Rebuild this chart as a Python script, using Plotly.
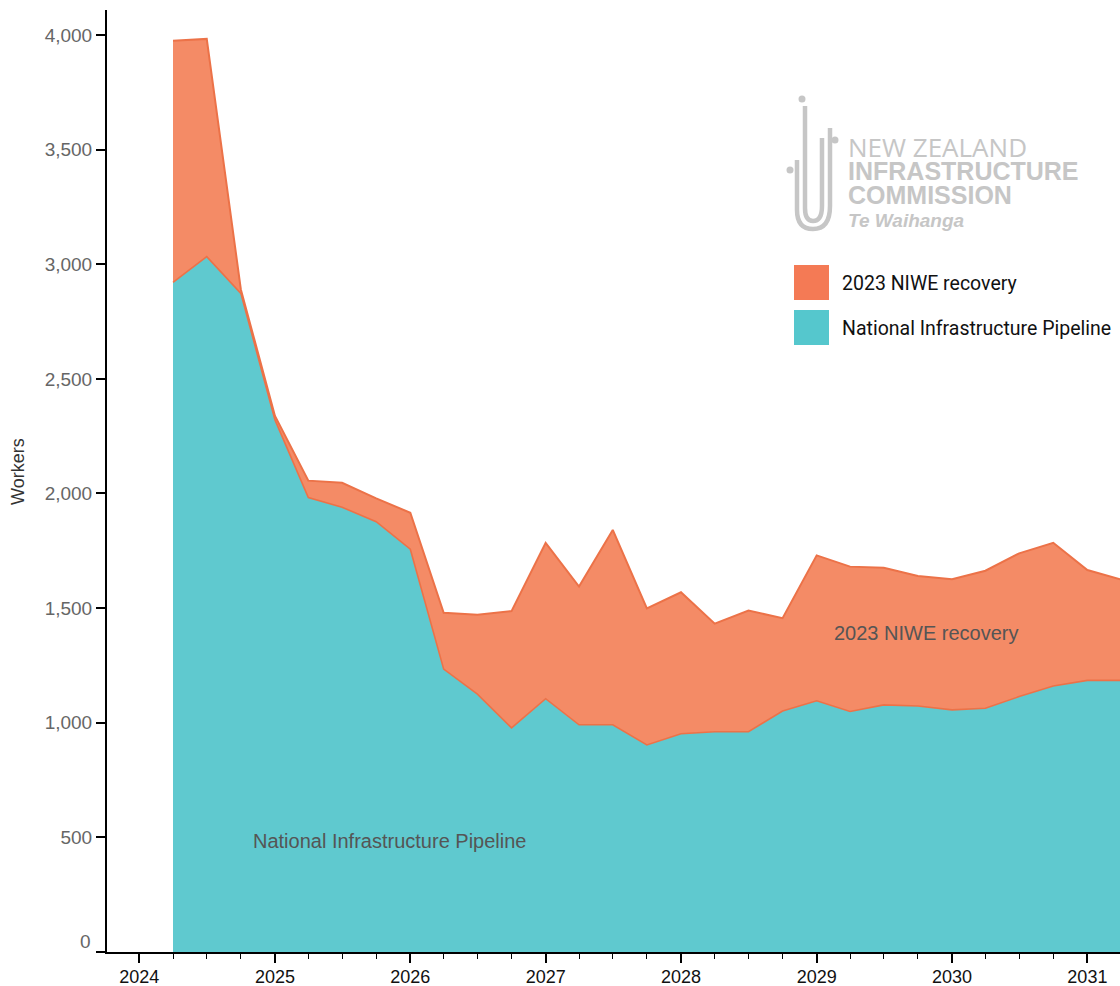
import plotly.graph_objects as go

quarters = ["2024-04-01", "2024-07-01", "2024-10-01",
            "2025-01-01", "2025-04-01", "2025-07-01", "2025-10-01",
            "2026-01-01", "2026-04-01", "2026-07-01", "2026-10-01",
            "2027-01-01", "2027-04-01", "2027-07-01", "2027-10-01",
            "2028-01-01", "2028-04-01", "2028-07-01", "2028-10-01",
            "2029-01-01", "2029-04-01", "2029-07-01", "2029-10-01",
            "2030-01-01", "2030-04-01", "2030-07-01", "2030-10-01",
            "2031-01-01", "2031-04-01"]

pipeline = [2921, 3033, 2873,
            2321, 1982, 1940, 1877,
            1757, 1234, 1125, 978,
            1105, 991, 991, 903,
            952, 961, 961, 1051,
            1096, 1049, 1078, 1073,
            1056, 1063, 1114, 1160,
            1185, 1185]

niwe = [1054, 950, 17,
        17, 74, 107, 102,
        159, 246, 346, 509,
        680, 603, 850, 596,
        617, 471, 528, 405,
        634, 632, 598, 567,
        570, 600, 625, 625,
        481, 440]

y_ticks = [0, 500, 1000, 1500, 2000, 2500, 3000, 3500, 4000]
y_tick_text = ["", "500", "1,000", "1,500", "2,000", "2,500", "3,000", "3,500", "4,000"]

series_names = ["National Infrastructure Pipeline", "2023 NIWE recovery"]

TEAL_FILL = "rgba(95,201,207,1)"
ORANGE_FILL = "rgba(244,139,102,1)"
ORANGE_LINE = "rgb(236,114,72)"
TEAL_KEY = "#55c7cd"
ORANGE_KEY = "#f47a55"

# plot area in pixels
L, R, T, B = 107, 1120, 10, 952
W, H = R - L, B - T


def px(x):
    return (x - L) / W


def py(y):
    return (B - y) / H


fig = go.Figure()
fig.add_trace(go.Scatter(
    x=quarters, y=pipeline, name=series_names[0], stackgroup="one",
    mode="lines", line=dict(color=ORANGE_LINE, width=1.6),
    fillcolor=TEAL_FILL, hoverinfo="x+y"))
fig.add_trace(go.Scatter(
    x=quarters, y=niwe, name=series_names[1], stackgroup="one",
    mode="lines", line=dict(color=ORANGE_LINE, width=2),
    fillcolor=ORANGE_FILL, hoverinfo="x+y"))

shapes = []
annotations = []

# legend keys
for (y0, col, name) in [(265, ORANGE_KEY, series_names[1]), (310, TEAL_KEY, series_names[0])]:
    shapes.append(dict(type="rect", xref="paper", yref="paper",
                       x0=px(794), x1=px(829), y0=py(y0 + 35), y1=py(y0),
                       fillcolor=col, line=dict(width=0)))
    annotations.append(dict(xref="paper", yref="paper", x=px(840), y=py(y0 + 18),
                            text=name, showarrow=False, xanchor="left", yanchor="middle",
                            font=dict(family="Roboto", size=19.5, color="#111")))

# in-chart labels
annotations.append(dict(xref="paper", yref="paper", x=px(251), y=py(841),
                        text=series_names[0], showarrow=False, xanchor="left", yanchor="middle",
                        font=dict(family="Liberation Sans, Arial", size=20, color="#555")))
annotations.append(dict(xref="paper", yref="paper", x=px(832), y=py(633),
                        text=series_names[1], showarrow=False, xanchor="left", yanchor="middle",
                        font=dict(family="Liberation Sans, Arial", size=20, color="#555")))

# y-axis title and 0 label
annotations.append(dict(xref="paper", yref="paper", x=px(18), y=py(472),
                        text="Workers", showarrow=False, textangle=-90,
                        xanchor="center", yanchor="middle",
                        font=dict(family="Liberation Sans, Arial", size=18, color="#333")))
annotations.append(dict(xref="paper", yref="paper", x=px(93), y=py(941),
                        text="0", showarrow=False, xanchor="right", yanchor="middle",
                        font=dict(family="Liberation Sans, Arial", size=19, color="#666")))

# logo text as one block
LOGO = "#c6c6c6"
logo_text = ("<span style='font-family:Open Sans;font-size:26px'>NEW ZEALAND</span><br>"
             "<span style='font-weight:bold;font-size:25px'>INFRASTRUCTURE</span><br>"
             "<span style='font-weight:bold;font-size:25px'>COMMISSION</span><br>"
             "<span style='font-weight:bold;font-style:italic;font-size:19px'>Te Waihanga</span>")
annotations.append(dict(xref="paper", yref="paper", x=px(846), y=py(180),
                        text=logo_text, showarrow=False, xanchor="left", yanchor="middle",
                        align="left",
                        font=dict(family="Liberation Sans, Arial", size=18, color=LOGO)))


def P(x, y):
    return f"{px(x):.5f},{py(y):.5f}"


glyph_paths = [
    f"M {P(797,160)} L {P(797,210)} Q {P(797,229)} {P(813,229)} Q {P(830,229)} {P(830,206)} L {P(830,128)}",
    f"M {P(805,106)} L {P(805,208)} Q {P(805,221)} {P(813,221)} Q {P(822,221)} {P(822,206)} L {P(822,138)}",
]
for pth in glyph_paths:
    shapes.append(dict(type="path", xref="paper", yref="paper", path=pth,
                       line=dict(color=LOGO, width=4.5)))
for (cx, cy) in [(802, 99), (790, 170), (835, 140)]:
    shapes.append(dict(type="circle", xref="paper", yref="paper",
                       x0=px(cx - 3.5), x1=px(cx + 3.5), y0=py(cy + 3.5), y1=py(cy - 3.5),
                       fillcolor=LOGO, line=dict(width=0)))

fig.update_layout(
    width=1120, height=986,
    margin=dict(l=L, r=1120 - R, t=T, b=986 - B, autoexpand=False),
    paper_bgcolor="white", plot_bgcolor="white",
    showlegend=False,
    shapes=shapes, annotations=annotations,
    xaxis=dict(
        type="date", range=["2023-10-06", "2031-03-30"], automargin=False,
        tick0="2024-01-01", dtick="M12", tickformat="%Y",
        ticks="outside", ticklen=9, tickwidth=1.5, tickcolor="black",
        ticklabelstandoff=-2,
        showline=True, linecolor="black", linewidth=2,
        showgrid=False, zeroline=False,
        tickfont=dict(family="Liberation Sans, Arial", size=18, color="#111"),
        minor=dict(dtick="M3", tick0="2024-01-01", ticks="outside", ticklen=5,
                   tickcolor="black", tickwidth=1, showgrid=False),
    ),
    yaxis=dict(
        range=[0, 4109], tickvals=y_ticks, ticktext=y_tick_text, automargin=False,
        ticks="outside", ticklen=9, tickwidth=1.5, tickcolor="black",
        showline=True, linecolor="black", linewidth=2,
        showgrid=False, zeroline=False,
        tickfont=dict(family="Liberation Sans, Arial", size=19, color="#666"),
    ),
)

fig.write_html("out.html", config={"displayModeBar": False},
               post_script="document.body.style.margin='0px';document.body.style.overflow='hidden';")
